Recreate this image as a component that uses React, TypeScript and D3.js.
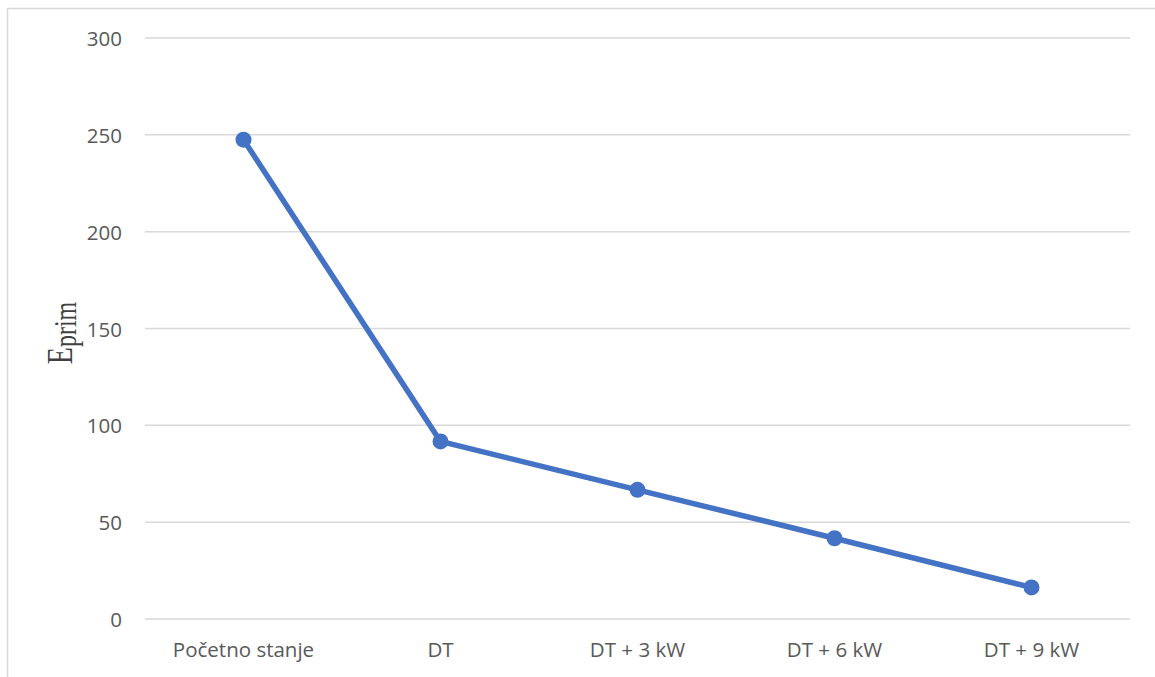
import React from "react";
import * as d3 from "d3";

const categories = ["Početno stanje", "DT", "DT + 3 kW", "DT + 6 kW", "DT + 9 kW"];
const values = [247.5, 91.7, 66.7, 41.7, 16.3];
const yTicks = [0, 50, 100, 150, 200, 250, 300];

const W = 1155;
const H = 677;
const plotLeft = 145;
const plotRight = 1130;
const plotTop = 38;
const plotBottom = 619;
const SX = 1.3;

export default function App() {
  const x = d3.scaleBand<string>().domain(categories).range([plotLeft, plotRight]);
  const y = d3.scaleLinear().domain([0, 300]).range([plotBottom, plotTop]);
  const cx = (c: string) => (x(c) as number) + x.bandwidth() / 2;
  const line = d3
    .line<number>()
    .x((_, i) => cx(categories[i]))
    .y((d) => y(d));
  const font = "'Open Sans', Lato, sans-serif";
  return (
    <svg
      width={W}
      height={H}
      style={{ position: "absolute", left: 0, top: 0, background: "#fff" }}
    >
      <rect x={7.5} y={8.5} width={1300} height={800} fill="#fff" stroke="#d9d9d9" strokeWidth={1.5} />
      {yTicks.map((t) => (
        <g key={t}>
          <line x1={plotLeft} x2={plotRight} y1={y(t)} y2={y(t)} stroke="#d9d9d9" strokeWidth={1.5} />
          <text
            x={122}
            y={y(t)}
            textAnchor="end"
            dominantBaseline="central"
            fontFamily={font}
            fontSize={20.5}
            fill="#595959"
          >
            {t}
          </text>
        </g>
      ))}
      {categories.map((c) => (
        <text
          key={c}
          x={cx(c)}
          y={657}
          textAnchor="middle"
          fontFamily={font}
          fontSize={20.5}
          fill="#595959"
        >
          {c}
        </text>
      ))}
      <path d={line(values) || ""} fill="none" stroke="#4472C4" strokeWidth={5.5} strokeLinejoin="round" />
      {values.map((v, i) => (
        <circle key={i} cx={cx(categories[i])} cy={y(v)} r={8} fill="#4472C4" />
      ))}
      <text
        transform={`translate(72,333) scale(${SX},1) rotate(-90)`}
        textAnchor="middle"
        fontFamily="'Liberation Serif', 'DejaVu Serif', serif"
        fill="#404040"
      >
        <tspan fontSize={28}>E</tspan>
        <tspan fontSize={24} dy={3}>prim</tspan>
      </text>
    </svg>
  );
}
